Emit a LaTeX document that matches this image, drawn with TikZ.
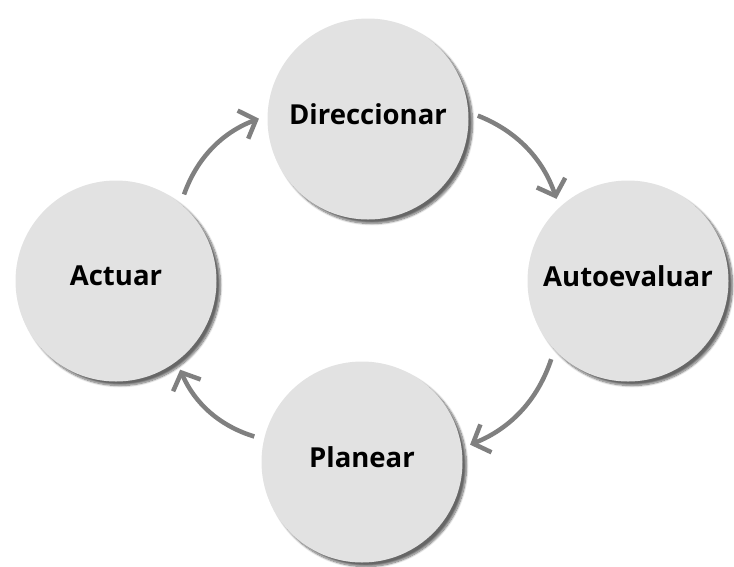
\documentclass[tikz,border=0pt]{standalone}
\usepackage{fontspec}
\setmainfont{Open Sans}
\usetikzlibrary{arrows.meta,shadows.blur}
\definecolor{stagefill}{RGB}{226,226,226}
\definecolor{cyclegray}{RGB}{128,128,128}
\begin{document}
\begin{tikzpicture}[x=1pt,y=-1pt,
  stage/.style={circle,fill=stagefill,minimum size=201pt,inner sep=0pt,text depth=10pt,
    font=\bfseries\fontsize{27.5}{30}\selectfont,
    blur shadow={shadow xshift=4pt,shadow yshift=-4pt,shadow blur steps=10,shadow opacity=60}},
  cycle/.style={cyclegray,line width=4.5pt,shorten <=10pt,shorten >=9pt,
    -{Straight Barb[length=14pt,width=30pt]}}]
\useasboundingbox (0,0) rectangle (734,566);
\node[stage] (dir) at (368,119) {Direccionar};
\node[stage] (act) at (116,281) {Actuar};
\node[stage] (aut) at (628,281) {Autoevaluar};
\node[stage] (pla) at (362,462) {Planear};
\draw[cycle] (act.50) to[bend left=25] (dir.178);
\draw[cycle] (dir.4) to[bend left=25] (aut.133);
\draw[cycle] (aut.223) to[bend left=25] (pla.8);
\draw[cycle] (pla.167) to[bend left=25] (act.307);
\end{tikzpicture}
\end{document}
